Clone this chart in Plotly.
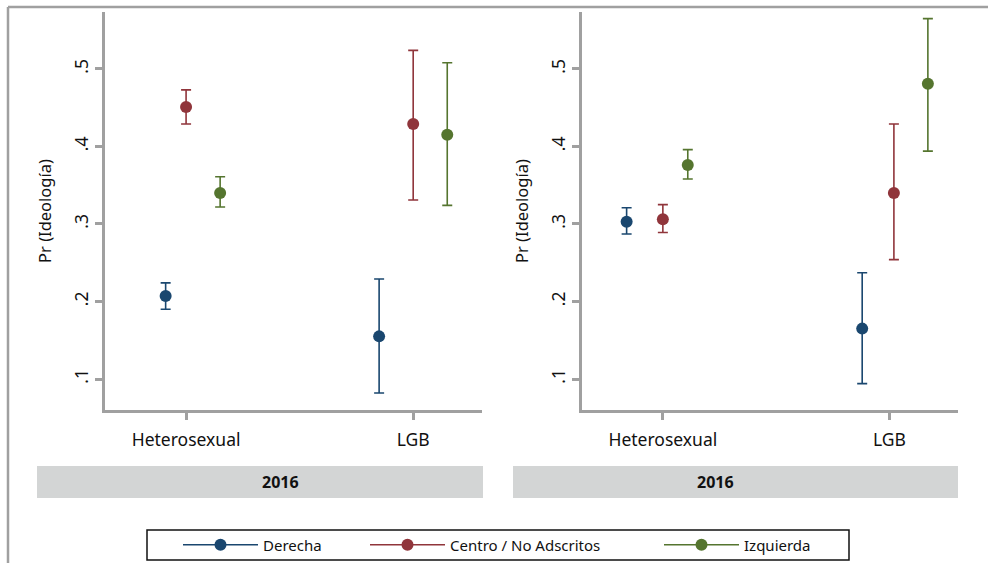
import plotly.graph_objects as go

# Predicted probabilities of ideology by sexual orientation, 2016 (two models)
groups = ["Heterosexual", "LGB"]
series = ["Derecha", "Centro / No Adscritos", "Izquierda"]
colors = ["#1a476f", "#90353b", "#55752f"]

# Panel 1: estimates and 95% confidence limits (rows follow `series`)
p1_est = [[0.207, 0.155], [0.451, 0.429], [0.340, 0.415]]
p1_lo = [[0.190, 0.082], [0.429, 0.331], [0.322, 0.324]]
p1_hi = [[0.224, 0.229], [0.473, 0.524], [0.361, 0.508]]

# Panel 2
p2_est = [[0.303, 0.165], [0.306, 0.340], [0.376, 0.481]]
p2_lo = [[0.287, 0.094], [0.289, 0.254], [0.358, 0.394]]
p2_hi = [[0.321, 0.237], [0.325, 0.429], [0.396, 0.565]]

# Horizontal dodge of each series around its category
p1_dodge = [[-0.09, -0.15], [0.0, 0.0], [0.15, 0.15]]
p2_dodge = [[-0.16, -0.12], [0.0, 0.02], [0.11, 0.17]]

yticks = [0.1, 0.2, 0.3, 0.4, 0.5]
ytick_text = [".1", ".2", ".3", ".4", ".5"]

W, H = 988, 563
FONT = "Noto Sans"
AXIS_GREY = "#a0a0a0"
LEGEND_ENTRY_WIDTH = [97, 204, None]


def with_breaks(values):
    """Interleave None so a lines+markers trace never joins its points."""
    out = []
    for i, v in enumerate(values):
        if i:
            out.append(None)
        out.append(v)
    return out


fig = go.Figure()

panels = [
    (p1_est, p1_lo, p1_hi, p1_dodge, "x", "y", True),
    (p2_est, p2_lo, p2_hi, p2_dodge, "x2", "y2", False),
]
for est, lo, hi, dodge, xa, ya, show in panels:
    for s, name in enumerate(series):
        xs = [g + 1 + dodge[s][g] for g in range(len(groups))]
        up = [h - e for h, e in zip(hi[s], est[s])]
        down = [e - l for e, l in zip(est[s], lo[s])]
        fig.add_trace(go.Scatter(
            x=with_breaks(xs), y=with_breaks(est[s]), mode="lines+markers",
            name=name, xaxis=xa, yaxis=ya, showlegend=show,
            legendgroup=name, connectgaps=False,
            legendwidth=LEGEND_ENTRY_WIDTH[s],
            marker=dict(color=colors[s], size=12),
            line=dict(color=colors[s], width=1.5),
            error_y=dict(type="data", symmetric=False,
                         array=with_breaks(up), arrayminus=with_breaks(down),
                         color=colors[s], thickness=1.6, width=5),
        ))


def px_x(v):
    return v / W


def px_y(v):
    return 1 - v / H


xdomains = [(105, 482), (582, 958)]
ydom = [px_y(410), px_y(12)]

axis_common = dict(showgrid=False, zeroline=False, showline=True,
                   linecolor=AXIS_GREY, linewidth=2.5, ticks="outside",
                   tickcolor=AXIS_GREY, tickwidth=2.5, ticklen=7,
                   tickfont=dict(family=FONT, size=17.5, color="#111"))

layout = dict(width=W, height=H, margin=dict(l=0, r=0, t=0, b=0),
              paper_bgcolor="white", plot_bgcolor="white",
              font=dict(family=FONT, color="#111"))
for i, (a, b) in enumerate(xdomains):
    sx = "" if i == 0 else str(i + 1)
    layout["xaxis" + sx] = dict(axis_common, domain=[px_x(a), px_x(b)],
                                range=[0.643, 2.303], tickvals=[1, 2],
                                ticktext=groups, anchor="y" + sx,
                                ticklabelstandoff=5)
    layout["yaxis" + sx] = dict(axis_common, domain=ydom, range=[0.06, 0.5735],
                                tickvals=yticks, ticktext=ytick_text,
                                tickangle=-90, anchor="x" + sx,
                                title=dict(text="Pr (Ideología)", standoff=14,
                                           font=dict(family=FONT, size=16.5)))
fig.update_layout(**layout)

# Outer frame lines
fig.add_shape(type="line", xref="paper", yref="paper",
              x0=px_x(8), x1=1, y0=px_y(7), y1=px_y(7),
              line=dict(color=AXIS_GREY, width=2.5))
fig.add_shape(type="line", xref="paper", yref="paper",
              x0=px_x(8), x1=px_x(8), y0=px_y(7), y1=0,
              line=dict(color=AXIS_GREY, width=2.5))

# Year strips under each panel
for a, b in [(37, 483), (513, 958)]:
    fig.add_shape(type="rect", xref="paper", yref="paper",
                  x0=px_x(a), x1=px_x(b), y0=px_y(498), y1=px_y(466),
                  fillcolor="#d3d5d5", line=dict(width=0), layer="below")
    fig.add_annotation(xref="paper", yref="paper", x=px_x((a + b) / 2),
                       y=px_y(482), yanchor="middle", text="<b>2016</b>",
                       showarrow=False,
                       font=dict(family=FONT, size=16, color="#111"))

# Legend frame
fig.add_shape(type="rect", xref="paper", yref="paper",
              x0=px_x(147), x1=px_x(849), y0=px_y(560), y1=px_y(530),
              line=dict(color="#111", width=1.5), fillcolor="rgba(0,0,0,0)")

fig.update_layout(legend=dict(
    orientation="h", x=px_x(178), y=px_y(545), xanchor="left",
    yanchor="middle", borderwidth=0, bgcolor="rgba(0,0,0,0)",
    font=dict(family=FONT, size=15, color="#111"),
    itemwidth=75,
))

fig.write_html("out.html")
